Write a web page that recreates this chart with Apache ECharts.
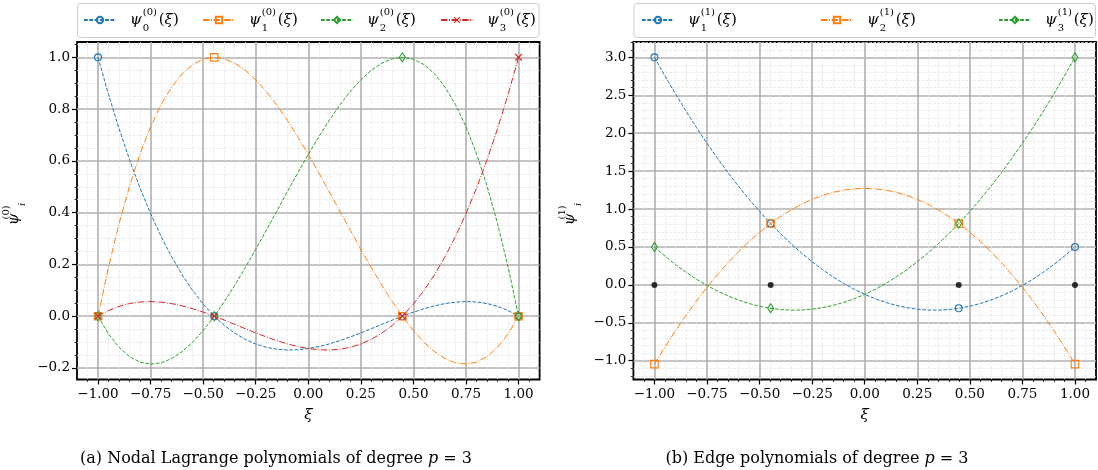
<!DOCTYPE html>
<html>
<head>
<meta charset="utf-8">
<script src="https://cdn.jsdelivr.net/npm/echarts@6/dist/echarts.min.js"></script>
<style>
  html, body { margin: 0; padding: 0; background: #ffffff; }
  #chart { width: 1098px; height: 470px; }
</style>
</head>
<body>
<div id="chart"></div>
<script>
// Abscissae on [-1, 1] (step 0.05) with the interior Gauss–Lobatto nodes ±0.4472 inserted
const xi = [-1, -0.95, -0.9, -0.85, -0.8, -0.75, -0.7, -0.65, -0.6, -0.55, -0.5, -0.45, -0.4472,
  -0.4, -0.35, -0.3, -0.25, -0.2, -0.15, -0.1, -0.05, 0, 0.05, 0.1, 0.15, 0.2, 0.25, 0.3, 0.35,
  0.4, 0.4472, 0.45, 0.5, 0.55, 0.6, 0.65, 0.7, 0.75, 0.8, 0.85, 0.9, 0.95, 1];

// Gauss–Lobatto nodes for p = 3
const nodes = [-1, -0.4472, 0.4472, 1];
const nodeLevel = [0, 0, 0, 0];

// Nodal Lagrange polynomials psi_i^(0)
const psi0_0 = [1.0, 0.8562, 0.7244, 0.6041, 0.495, 0.3965, 0.3081, 0.2295, 0.16, 0.0993, 0.0469, 0.0023, 0,
  -0.035, -0.0654, -0.0894, -0.1074, -0.12, -0.1276, -0.1306, -0.1296, -0.125, -0.1173, -0.1069, -0.0943,
  -0.08, -0.0645, -0.0481, -0.0315, -0.015, 0, 0.0009, 0.0156, 0.0288, 0.04, 0.0487, 0.0544, 0.0566, 0.055,
  0.049, 0.0381, 0.022, 0];
const psi1_0 = [0, 0.1904, 0.3577, 0.5031, 0.6275, 0.732, 0.8177, 0.8855, 0.9367, 0.9721, 0.9928, 1.0, 1,
  0.9946, 0.9777, 0.9503, 0.9135, 0.8683, 0.8159, 0.7571, 0.6931, 0.625, 0.5537, 0.4804, 0.406, 0.3317,
  0.2584, 0.1872, 0.1192, 0.0554, 0, -0.0031, -0.0553, -0.1002, -0.1367, -0.1637, -0.1802, -0.1851, -0.1775,
  -0.1562, -0.1202, -0.0685, 0];
const psi2_0 = [0, -0.0685, -0.1202, -0.1562, -0.1775, -0.1851, -0.1802, -0.1637, -0.1367, -0.1002, -0.0553,
  -0.0031, 0, 0.0554, 0.1192, 0.1872, 0.2584, 0.3317, 0.406, 0.4804, 0.5537, 0.625, 0.6931, 0.7571, 0.8159,
  0.8683, 0.9135, 0.9503, 0.9777, 0.9946, 1, 1.0, 0.9928, 0.9721, 0.9367, 0.8855, 0.8177, 0.732, 0.6275,
  0.5031, 0.3577, 0.1904, 0];
const psi3_0 = [0, 0.022, 0.0381, 0.049, 0.055, 0.0566, 0.0544, 0.0487, 0.04, 0.0288, 0.0156, 0.0009, 0,
  -0.015, -0.0315, -0.0481, -0.0645, -0.08, -0.0943, -0.1069, -0.1173, -0.125, -0.1296, -0.1306, -0.1276,
  -0.12, -0.1074, -0.0894, -0.0654, -0.035, 0, 0.0023, 0.0469, 0.0993, 0.16, 0.2295, 0.3081, 0.3965, 0.495,
  0.6041, 0.7244, 0.8562, 1.0];

// Edge polynomials psi_i^(1)
const psi1_1 = [3.0, 2.7547, 2.5188, 2.2922, 2.075, 1.8672, 1.6688, 1.4797, 1.3, 1.1297, 0.9688, 0.8172, 0.809,
  0.675, 0.5422, 0.4188, 0.3047, 0.2, 0.1047, 0.0188, -0.0578, -0.125, -0.1828, -0.2313, -0.2703, -0.3,
  -0.3203, -0.3313, -0.3328, -0.325, -0.309, -0.3078, -0.2813, -0.2453, -0.2, -0.1453, -0.0813, -0.0078,
  0.075, 0.1672, 0.2688, 0.3797, 0.5];
const psi2_1 = [-1.0451, -0.8191, -0.6047, -0.4019, -0.2107, -0.0311, 0.1369, 0.2933, 0.4382, 0.5715, 0.6931,
  0.8032, 0.809, 0.9017, 0.9886, 1.064, 1.1277, 1.1798, 1.2204, 1.2494, 1.2667, 1.2725, 1.2667, 1.2494,
  1.2204, 1.1798, 1.1277, 1.064, 0.9886, 0.9017, 0.809, 0.8032, 0.6931, 0.5715, 0.4382, 0.2933, 0.1369,
  -0.0311, -0.2107, -0.4019, -0.6047, -0.8191, -1.0451];
const psi3_1 = [0.5, 0.3797, 0.2688, 0.1672, 0.075, -0.0078, -0.0813, -0.1453, -0.2, -0.2453, -0.2813, -0.3078,
  -0.309, -0.325, -0.3328, -0.3313, -0.3203, -0.3, -0.2703, -0.2313, -0.1828, -0.125, -0.0578, 0.0188,
  0.1047, 0.2, 0.3047, 0.4188, 0.5422, 0.675, 0.809, 0.8172, 0.9688, 1.1297, 1.3, 1.4797, 1.6688, 1.8672,
  2.075, 2.2922, 2.5188, 2.7547, 3.0];

// Tick values
const xTicks = [-1, -0.75, -0.5, -0.25, 0, 0.25, 0.5, 0.75, 1];
const yTicksNodal = [-0.2, 0, 0.2, 0.4, 0.6, 0.8, 1.0];
const yTicksEdge = [-1, -0.5, 0, 0.5, 1, 1.5, 2, 2.5, 3];

const SERIF = "'DejaVu Serif', 'Liberation Serif', serif";
const C = { blue: '#1f77b4', orange: '#ff7f0e', green: '#2ca02c', red: '#d62728' };
const DASH = [3.7, 1.6];
const DASHDOT = [6.4, 1.6, 1, 1.6];
const CROSS = 'path://M0,1.2L1.2,0L5,3.8L8.8,0L10,1.2L6.2,5L10,8.8L8.8,10L5,6.2L1.2,10L0,8.8L3.8,5Z';
const HOLLOW = 'rgba(255,255,255,0)';

const fmt = (v, d) => {
  const s = Math.abs(v).toFixed(d);
  return (v < -1e-9 ? '\u2212' : '') + s;
};

// Rich text pieces for ψ with stacked sub/superscript
const mathRich = {
  p: { fontFamily: SERIF, fontStyle: 'italic', fontSize: 15, lineHeight: 26, color: '#000', padding: [0, 1, 0, 0] },
  pl: { fontFamily: SERIF, fontStyle: 'italic', fontSize: 15, lineHeight: 26, color: '#000', padding: [0, 1, 0, 9] },
  sup: { fontFamily: SERIF, fontSize: 10, lineHeight: 13, verticalAlign: 'top', color: '#000', width: 0 },
  sub: { fontFamily: SERIF, fontSize: 10, lineHeight: 13, verticalAlign: 'bottom', color: '#000', width: 16 },
  subi: { fontFamily: SERIF, fontStyle: 'italic', fontSize: 10, lineHeight: 13, verticalAlign: 'bottom', color: '#000', width: 16 },
  a: { fontFamily: SERIF, fontSize: 15, lineHeight: 26, color: '#000' },
  ai: { fontFamily: SERIF, fontStyle: 'italic', fontSize: 15, lineHeight: 26, color: '#000' }
};
const psiLabel = (sub, sup) => `{pl|ψ}{sup|(${sup})}{sub|${sub}}{a|(}{ai|ξ}{a|)}`;

// Dashed curve with hollow markers at the nodes only
function curve(name, ys, color, dash, symbol, size, gi, filled) {
  return {
    type: 'line', name, xAxisIndex: gi, yAxisIndex: gi,
    data: xi.map((x, i) => [x, ys[i]]),
    symbol, showAllSymbol: true,
    symbolSize: (v) => (nodes.indexOf(v[0]) >= 0 ? size : 0),
    lineStyle: { color, width: 1, type: dash },
    itemStyle: filled
      ? { color, borderWidth: 0 }
      : { color: HOLLOW, borderColor: color, borderWidth: 1.1 },
    emphasis: { disabled: true },
    z: 3
  };
}

const series = [
  curve(psiLabel('0', 0), psi0_0, C.blue, DASH, 'circle', 7, 0),
  curve(psiLabel('1', 0), psi1_0, C.orange, DASHDOT, 'rect', 7.5, 0),
  curve(psiLabel('2', 0), psi2_0, C.green, DASH, 'diamond', [6, 9], 0),
  curve(psiLabel('3', 0), psi3_0, C.red, DASHDOT, CROSS, 7.5, 0, true),
  curve(psiLabel('1', 1), psi1_1, C.blue, DASH, 'circle', 7, 1),
  curve(psiLabel('2', 1), psi2_1, C.orange, DASHDOT, 'rect', 7.5, 1),
  curve(psiLabel('3', 1), psi3_1, C.green, DASH, 'diamond', [6, 9], 1),
  {
    type: 'scatter', xAxisIndex: 1, yAxisIndex: 1,
    data: nodes.map((x, i) => [x, nodeLevel[i]]),
    symbol: 'circle', symbolSize: 6,
    itemStyle: { color: '#000' }, z: 2, silent: true
  }
];

const tickFont = { fontFamily: SERIF, fontSize: 13.5, color: '#000' };

function xAxis(gi) {
  return {
    type: 'value', gridIndex: gi, min: -1.1, max: 1.1, minInterval: 0.25, maxInterval: 0.25,
    axisLine: { show: false, onZero: false },
    axisTick: { show: true, customValues: xTicks, length: 5, lineStyle: { color: '#000', width: 1.2 } },
    axisLabel: Object.assign({ customValues: xTicks, margin: 8, formatter: (v) => fmt(v, 2) }, tickFont),
    splitLine: { show: true, lineStyle: { color: '#b0b0b0', width: 1.6 } },
    minorTick: { show: true, splitNumber: 5, length: 2.5, lineStyle: { color: '#000', width: 0.8 } },
    minorSplitLine: { show: true, lineStyle: { color: '#e6e6e6', width: 0.8, type: [2.5, 1.5] } },
    name: '{ai|ξ}', nameLocation: 'middle', nameGap: 23,
    nameTextStyle: { rich: mathRich }
  };
}

function yAxis(gi, min, max, step, ticks, minorSplit, sup) {
  return {
    type: 'value', gridIndex: gi, min, max, minInterval: step, maxInterval: step,
    axisLine: { show: false, onZero: false },
    axisTick: { show: true, customValues: ticks, length: 5, lineStyle: { color: '#000', width: 1.2 } },
    axisLabel: Object.assign({ customValues: ticks, margin: 7, formatter: (v) => fmt(v, 1) }, tickFont),
    splitLine: { show: true, lineStyle: { color: '#b0b0b0', width: 1.6 } },
    minorTick: { show: true, splitNumber: minorSplit, length: 2.5, lineStyle: { color: '#000', width: 0.8 } },
    minorSplitLine: { show: true, lineStyle: { color: '#e6e6e6', width: 0.8, type: [2.5, 1.5] } },
    name: `{p|ψ}{sup|(${sup})}{subi|i}`, nameLocation: 'middle', nameRotate: 90, nameGap: 50,
    nameTextStyle: { rich: mathRich }
  };
}

function legendItem(name, left) {
  return {
    data: [name], left, top: 7, padding: 0,
    itemWidth: 32, itemHeight: 8,
    formatter: (n) => n,
    textStyle: { rich: mathRich },
    selectedMode: false
  };
}

const captionStyle = {
  fontFamily: SERIF, fontSize: 16, fontWeight: 'normal', color: '#000',
  rich: { m: { fontFamily: SERIF, fontStyle: 'italic', fontSize: 16, color: '#000' } }
};

const chart = echarts.init(document.getElementById('chart'), null, { renderer: 'canvas' });
chart.setOption({
  animation: false,
  backgroundColor: '#ffffff',
  grid: [
    { left: 77, top: 42, width: 462.6, height: 337.5, show: true, borderColor: '#000', borderWidth: 1.8, backgroundColor: 'transparent' },
    { left: 633.4, top: 42, width: 462.6, height: 337.5, show: true, borderColor: '#000', borderWidth: 1.8, backgroundColor: 'transparent' }
  ],
  xAxis: [xAxis(0), xAxis(1)],
  yAxis: [
    yAxis(0, -0.2445, 1.0593, 0.2, yTicksNodal, 4, 0),
    yAxis(1, -1.2474, 3.2023, 0.5, yTicksEdge, 5, 1)
  ],
  legend: [
    legendItem(series[0].name, 83),
    legendItem(series[1].name, 202),
    legendItem(series[2].name, 320),
    legendItem(series[3].name, 440),
    legendItem(series[4].name, 641),
    legendItem(series[5].name, 820),
    legendItem(series[6].name, 998)
  ],
  graphic: [
    { type: 'rect', z: 0, silent: true, shape: { x: 77.5, y: 3.5, width: 461.6, height: 34, r: 3 },
      style: { fill: 'rgba(255,255,255,0.8)', stroke: '#cccccc', lineWidth: 1 } },
    { type: 'rect', z: 0, silent: true, shape: { x: 633.9, y: 3.5, width: 461.6, height: 34, r: 3 },
      style: { fill: 'rgba(255,255,255,0.8)', stroke: '#cccccc', lineWidth: 1 } }
  ],
  title: [
    { text: '(a) Nodal Lagrange polynomials of degree {m|p} = 3', left: 271, top: 446, textAlign: 'center', textStyle: captionStyle },
    { text: '(b) Edge polynomials of degree {m|p} = 3', left: 812, top: 446, textAlign: 'center', textStyle: captionStyle }
  ],
  series
});
</script>
</body>
</html>
